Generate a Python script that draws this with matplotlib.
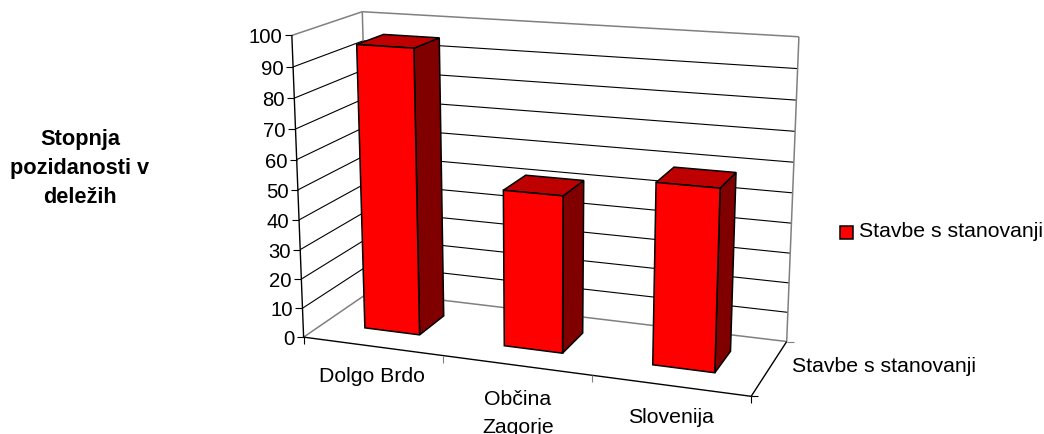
#!/usr/bin/env python3
"""
plot.py
=======
Perspective column chart of the building density shares, saved as out.png.
"""

import numpy as np
import matplotlib
matplotlib.use("Agg")
import matplotlib.pyplot as plt
from matplotlib.patches import Polygon, Rectangle

plt.rcParams["font.family"] = ["Liberation Sans", "DejaVu Sans"]

# ── Data ───────────────────────────────────────────────────────────────────────
categories = ["Dolgo Brdo", "Občina\nZagorje", "Slovenija"]
values     = [95.5, 52, 59]
y_ticks    = [0, 10, 20, 30, 40, 50, 60, 70, 80, 90, 100]
series     = "Stavbe s stanovanji"
y_title    = "Stopnja\npozidanosti v\ndeležih"

RED, RED_TOP, RED_SIDE = "#ff0000", "#bf0000", "#800000"
GREY = "#808080"

# ── Camera: (category, value, depth) in 0..1 to figure pixels ──────────────────
CAM_WORLD = [(0, 0, 0), (0, 1, 0), (0, 0, 1), (0, 1, 1), (1, 0, 1), (1, 1, 1),
             (1, 0, 0), (1/3, 0, 0), (2/3, 0, 0), (0, 0.5, 0)]
CAM_PIXEL = [(304, 338), (292, 36), (370, 292.5), (362, 13), (787, 342), (799, 38),
             (751, 397), (443, 357), (592, 377), (298, 190.7)]


def fit_camera(world, pixel):
    rows, rhs = [], []
    for (a, b, c), (px, py) in zip(world, pixel):
        rows.append([a, b, c, 1, 0, 0, 0, 0, -px * a, -px * b, -px * c])
        rows.append([0, 0, 0, 0, a, b, c, 1, -py * a, -py * b, -py * c])
        rhs += [px, py]
    coef = np.linalg.lstsq(np.array(rows), np.array(rhs), rcond=None)[0]
    return np.append(coef, 1.0).reshape(3, 4)


CAM = fit_camera(CAM_WORLD, CAM_PIXEL)


def proj(u, v, w):
    x, y, h = CAM @ np.array([u, v, w, 1.0])
    return x / h, y / h


def seg(ax, p0, p1, color="black", lw=0.8, z=2):
    ax.plot([p0[0], p1[0]], [p0[1], p1[1]], color=color, lw=lw, zorder=z,
            solid_capstyle="butt")


fig = plt.figure(figsize=(10.44, 4.35), dpi=100)
ax = fig.add_axes([0, 0, 1, 1])
ax.set_xlim(0, 1044)
ax.set_ylim(435, 0)
ax.axis("off")

# ── Walls and gridlines ────────────────────────────────────────────────────────
for t in y_ticks:
    v = t / 100
    col = GREY if t in (0, 100) else "black"
    lw = 1.1 if t in (0, 100) else 0.8
    seg(ax, proj(0, v, 0), proj(0, v, 1), color=col, lw=lw)
    seg(ax, proj(0, v, 1), proj(1, v, 1), color=col, lw=lw)
seg(ax, proj(0, 0, 1), proj(0, 1, 1), color=GREY, lw=1.1)
seg(ax, proj(1, 0, 1), proj(1, 1, 1), color=GREY, lw=1.1)

# ── Axes ───────────────────────────────────────────────────────────────────────
seg(ax, proj(0, 0, 0), proj(0, 1, 0), lw=1.0)
seg(ax, proj(0, 0, 0), proj(1, 0, 0), lw=1.0)
seg(ax, proj(1, 0, 0), proj(1, 0, 1), lw=1.0)

for t in y_ticks:
    x, y = proj(0, t / 100, 0)
    seg(ax, (x - 7, y), (x, y))
    ax.text(x - 9.5, y - 0.5, str(t), ha="right", va="center_baseline", fontsize=14.6,
            color="black")

for i in range(len(categories) + 1):
    x, y = proj(i / len(categories), 0, 0)
    seg(ax, (x, y), (x, y + 7), color="black" if i in (0, 3) else GREY)
seg(ax, proj(1, 0, 0), (proj(1, 0, 0)[0] + 7, proj(1, 0, 0)[1]))
seg(ax, proj(1, 0, 1), (proj(1, 0, 1)[0] + 7, proj(1, 0, 1)[1]), color=GREY)

# ── Columns, they never overlap so the draw order between them is free ────────
W0, W1 = 0.3, 0.7
for i, val in enumerate(values):
    u0, u1 = (i + 0.3) / len(values), (i + 0.7) / len(values)
    v = val / 100
    front = [proj(u0, 0, W0), proj(u1, 0, W0), proj(u1, v, W0), proj(u0, v, W0)]
    side  = [proj(u1, 0, W0), proj(u1, 0, W1), proj(u1, v, W1), proj(u1, v, W0)]
    top   = [proj(u0, v, W0), proj(u1, v, W0), proj(u1, v, W1), proj(u0, v, W1)]
    for pts, col in ((side, RED_SIDE), (top, RED_TOP), (front, RED)):
        ax.add_patch(Polygon(pts, closed=True, fc=col, ec="black", lw=1.1,
                             joinstyle="miter", zorder=3))

# ── Labels ─────────────────────────────────────────────────────────────────────
cat_pos = [(372, 377), (518, 413.5), (671, 417.5)]
for name, (x, y) in zip(categories, cat_pos):
    ax.text(x, y, name, ha="center", va="center", fontsize=15.3, linespacing=1.62,
            color="black", clip_on=False)

ax.text(791.5, 367, series, ha="left", va="center", fontsize=15.3, color="black")
ax.text(80, 169, y_title, ha="center", va="center", fontsize=15.7, fontweight="bold",
        linespacing=1.5, color="black")

# Legend
ax.add_patch(Rectangle((840, 227), 12.5, 12.5, fc=RED, ec="black", lw=1.1, zorder=3))
ax.text(859, 232, series, ha="left", va="center", fontsize=15.3, color="black")

fig.savefig("out.png", dpi=100)
plt.close(fig)
